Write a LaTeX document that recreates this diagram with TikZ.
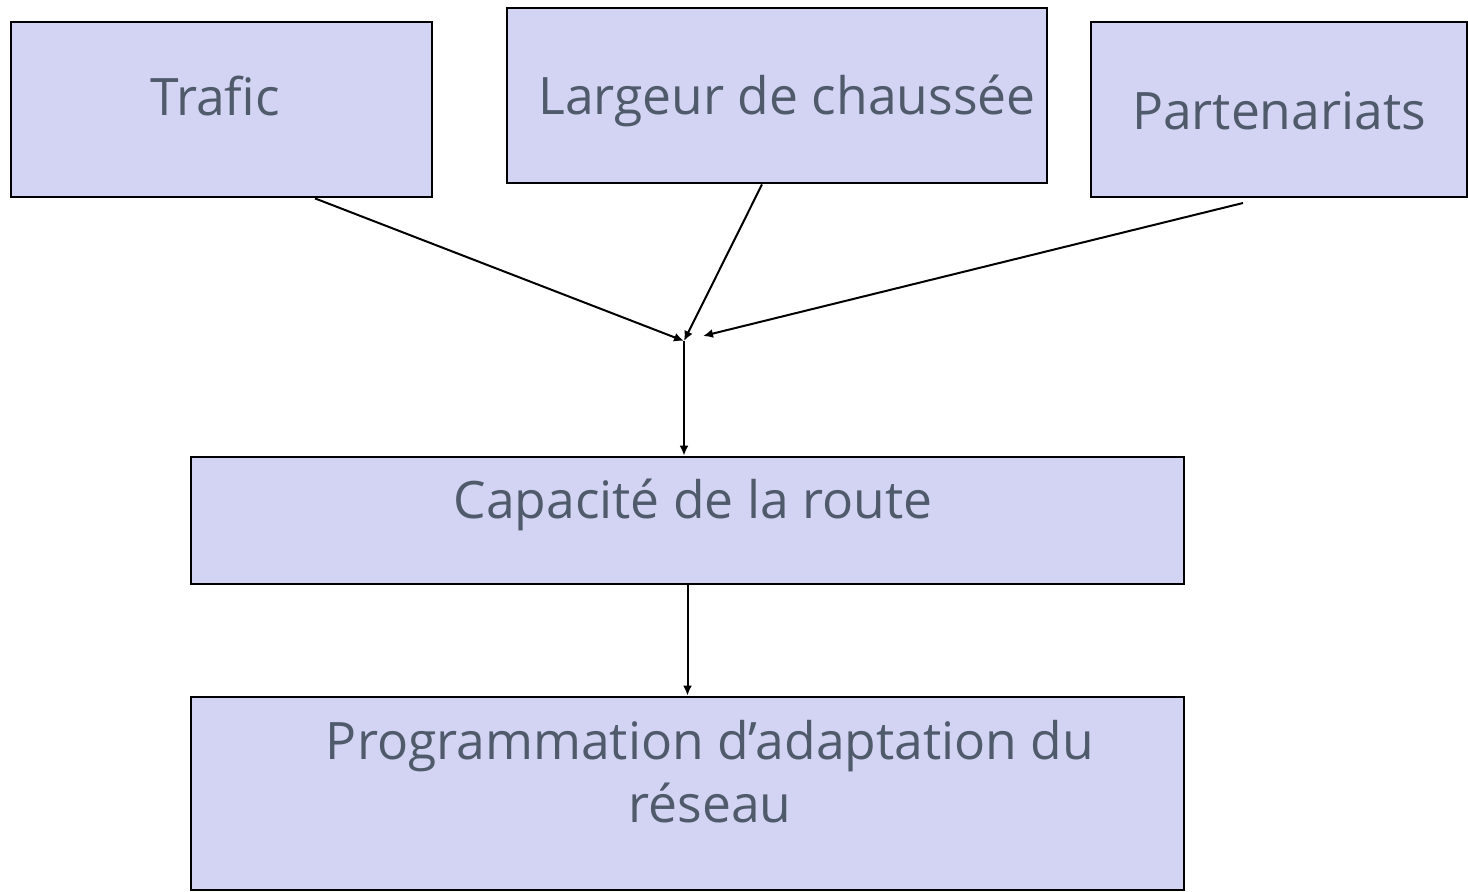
\documentclass[tikz,border=0pt]{standalone}
\usepackage{fontspec}
\setmainfont{Open Sans}
\usepackage{xcolor}
\usepackage{tikz}
\usetikzlibrary{
	arrows.meta,positioning
}
\definecolor{boxfill}{RGB}{211,211,243}
\definecolor{boxtext}{RGB}{79,91,107}

\begin{document}
\begin{tikzpicture}[x=0.5pt,y=-0.5pt,
	box/.style={draw=black,line width=1.4pt,fill=boxfill,rectangle,inner sep=0pt},
	lbl/.style={text=boxtext,inner sep=0pt,font=\fontsize{25.8}{31.5}\selectfont},
	link/.style={line width=1pt,-{Latex[length=5pt,width=4.5pt]}}]
	\useasboundingbox (0,0) rectangle (1468,892);
	%
	\node[box,minimum width=210.5pt,minimum height=87.5pt] (trafic) at (221.5,109.5) {};
	\node[box,minimum width=270pt,minimum height=87.5pt] (largeur) at (777,95.5) {};
	\node[box,minimum width=188pt,minimum height=87.5pt] (partner) at (1279,109.5) {};
	\node[box,minimum width=496.5pt,minimum height=63.5pt] (capacite) at (687.5,520.5) {};
	\node[box,minimum width=496.5pt,minimum height=96.5pt] (prog) at (687.5,793.5) {};
	%
	\node[lbl,anchor=base] (trafictxt) at (215,116) {Trafic};
	\node[lbl,anchor=base] (largeurtxt) at (787,115) {Largeur de chaussée};
	\node[lbl,anchor=base] (partnertxt) at (1279,130) {Partenariats};
	\node[lbl,anchor=base] (capacitetxt) at (693,519) {Capacité de la route};
	\node[lbl,align=center] (progtxt) at (710,772) {Programmation d’adaptation du\\réseau};
	%
	\coordinate (join) at (684,341);
	\coordinate (joinr) at (703,336);
	\coordinate (partnerout) at (1243,203);
	%
	\draw[link] ([xshift=46.75pt]trafic.south) -- (join);
	\draw[link] ([xshift=-7.5pt]largeur.south) -- (join);
	\draw[link] (partnerout) -- (joinr);
	\draw[link] (join) -- (join |- capacite.north);
	\draw[link] (capacite.south) -- (prog.north);
\end{tikzpicture}
\end{document}
